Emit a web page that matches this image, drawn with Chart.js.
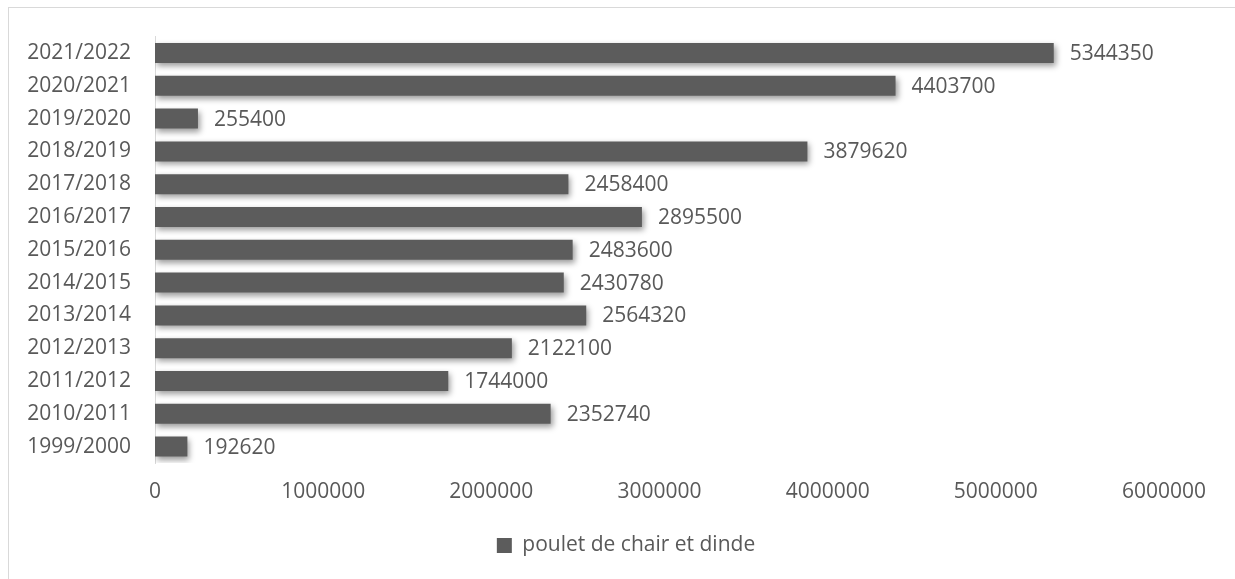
<!DOCTYPE html>
<html>
<head>
<meta charset="utf-8">
<script src="https://cdn.jsdelivr.net/npm/chart.js@4"></script>
<style>
  html, body { margin: 0; padding: 0; background: #fff; }
  #frame { position: absolute; left: 8px; top: 7px; width: 1300px; height: 640px; border: 1px solid #d9d9d9; }
  #wrap { position: absolute; left: 0; top: 0; width: 1235px; height: 579px; }
</style>
</head>
<body>
<div id="frame"></div>
<div id="wrap"><canvas id="c" width="1235" height="579"></canvas></div>
<script>
const categories = ["2021/2022","2020/2021","2019/2020","2018/2019","2017/2018","2016/2017","2015/2016","2014/2015","2013/2014","2012/2013","2011/2012","2010/2011","1999/2000"];
const values = [5344350, 4403700, 255400, 3879620, 2458400, 2895500, 2483600, 2430780, 2564320, 2122100, 1744000, 2352740, 192620];
const seriesName = "poulet de chair et dinde";
const xTicks = [0, 1000000, 2000000, 3000000, 4000000, 5000000, 6000000];

const FONT = "'Open Sans', 'Liberation Sans', sans-serif";
const TEXT = "#595959";
const BAR = "#5c5c5c";

const shadowAndLabels = {
  id: 'shadowAndLabels',
  afterLayout(chart) {
    const lg = chart.legend;
    if (lg) { lg.left += 39; lg.right += 39; }
  },
  beforeDatasetsDraw(chart) {
    const ctx = chart.ctx;
    ctx.save();
    ctx.shadowColor = 'rgba(0,0,0,0.4)';
    ctx.shadowBlur = 6;
    ctx.shadowOffsetX = 2;
    ctx.shadowOffsetY = 3;
  },
  afterDatasetsDraw(chart) {
    const ctx = chart.ctx;
    ctx.restore();
    ctx.save();
    ctx.font = "21px " + FONT;
    ctx.fillStyle = TEXT;
    ctx.textAlign = 'left';
    ctx.textBaseline = 'middle';
    const meta = chart.getDatasetMeta(0);
    meta.data.forEach((el, i) => {
      ctx.fillText(String(chart.data.datasets[0].data[i]), el.x + 16, el.y + 1);
    });
    ctx.restore();
  }
};

new Chart(document.getElementById('c'), {
  type: 'bar',
  data: {
    labels: categories,
    datasets: [{
      label: seriesName,
      data: values,
      backgroundColor: BAR,
      borderWidth: 0,
      barPercentage: 0.61,
      categoryPercentage: 1.0
    }]
  },
  options: {
    indexAxis: 'y',
    responsive: false,
    animation: false,
    layout: { padding: { left: 10, right: 71, top: 36, bottom: 13 } },
    scales: {
      x: {
        min: 0,
        max: 6000000,
        afterBuildTicks(scale) { scale.ticks = xTicks.map(v => ({ value: v })); },
        afterFit(scale) { scale.height = 62; },
        grid: { display: false, drawTicks: false },
        border: { display: false },
        ticks: {
          color: TEXT,
          font: { family: FONT, size: 21 },
          padding: 16,
          maxRotation: 0,
          callback: v => String(v)
        }
      },
      y: {
        afterFit(scale) { scale.width = 145; },
        grid: { display: false, drawTicks: false },
        border: { display: true, color: '#d9d9d9', width: 1 },
        ticks: {
          color: TEXT,
          font: { family: FONT, size: 21 },
          padding: 24
        }
      }
    },
    plugins: {
      legend: {
        position: 'bottom',
        labels: {
          color: TEXT,
          font: { family: FONT, size: 21 },
          boxWidth: 15,
          boxHeight: 15,
          padding: 10
        }
      },
      tooltip: { enabled: false }
    }
  },
  plugins: [shadowAndLabels]
});
</script>
</body>
</html>
